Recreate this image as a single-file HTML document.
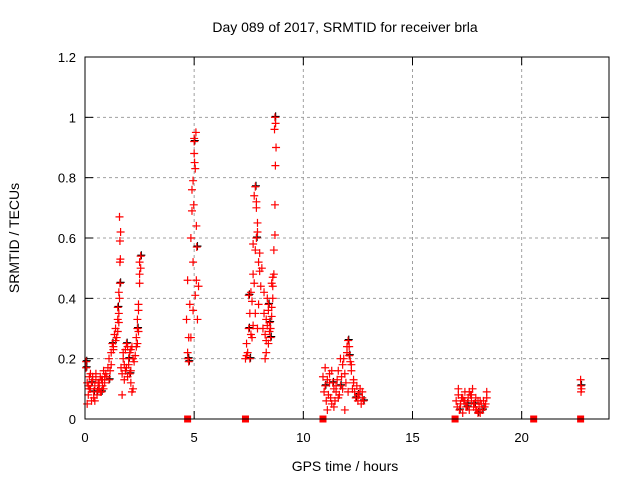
<!DOCTYPE html>
<html><head><meta charset="utf-8"><style>
body{margin:0;background:#fff}
svg{display:block;font-family:"Liberation Sans",sans-serif}
</style></head><body>
<svg id="chart" width="640" height="480" viewBox="0 0 640 480">
<text x="345" y="32" font-size="14" text-anchor="middle">Day 089 of 2017, SRMTID for receiver brla</text>
<g id="grid"></g>
<g id="ticks"></g>
<g id="marks"></g>
<rect x="85" y="57" width="524" height="362" fill="none" stroke="#000" stroke-width="1"/>
<text x="345" y="471" font-size="14" text-anchor="middle">GPS time / hours</text>
<text transform="translate(19,238) rotate(-90)" font-size="14" text-anchor="middle">SRMTID / TECUs</text>
</svg>
<script>
const xTicks=[0,5,10,15,20];
const yTicks=[0,0.2,0.4,0.6,0.8,1,1.2];
const yTickLabels=["0","0.2","0.4","0.6","0.8","1","1.2"];
const hours=[0.05,0.1,0.15,0.2,0.25,0.3,0.35,0.4,0.45,0.5,0.55,0.6,0.65,0.7,0.75,0.8,0.85,0.9,0.95,0.1,0.2,0.3,0.4,0.5,0.6,0.7,0.8,0.9,0.05,0.25,0.45,0.65,0.85,0.15,0.35,0.55,0.75,
1.0,1.05,1.1,1.15,1.2,1.25,1.3,1.35,1.4,1.45,1.5,1.55,1.1,1.2,1.3,1.4,1.5,1.55,1.58,1.6,1.6,1.62,1.55,1.6,1.63,1.58,1.5,
1.7,1.75,1.8,1.85,1.9,1.95,2.0,2.05,2.1,2.15,2.2,1.7,1.8,1.9,2.0,2.1,2.2,1.75,1.85,1.95,2.05,2.15,1.65,2.1,2.25,
2.3,2.35,2.4,2.45,2.4,2.45,2.5,2.5,2.55,2.55,2.5,2.4,2.35,2.45,
4.65,4.7,4.72,4.75,4.7,4.8,4.85,4.9,4.95,5.0,5.0,5.02,5.05,4.98,5.1,5.1,5.12,4.95,5.05,5.15,5.2,4.9,4.85,4.75,5.08,5.0,4.95,
7.35,7.4,7.45,7.5,7.55,7.6,7.65,7.7,7.75,7.8,7.85,7.9,7.95,8.0,8.05,7.7,7.75,7.8,7.85,7.9,7.65,7.8,7.95,8.0,7.55,7.6,7.7,7.85,8.1,7.9,7.4,7.5,
8.15,8.2,8.25,8.3,8.35,8.4,8.45,8.5,8.55,8.6,8.2,8.3,8.4,8.5,8.6,8.25,8.35,8.45,8.55,8.3,8.4,8.65,8.7,8.7,8.72,8.75,8.68,8.7,8.73,8.65,8.6,8.55,
10.9,10.95,11.0,11.05,11.1,11.15,11.2,11.25,11.3,11.35,11.4,11.45,11.5,11.55,11.6,11.65,11.7,11.75,11.8,11.85,11.9,11.95,12.0,12.05,12.1,12.15,12.2,12.25,12.3,12.35,12.4,12.45,12.5,12.55,12.6,12.65,12.7,12.75,11.0,11.2,11.4,11.6,11.8,12.0,12.1,12.2,11.9,12.05,11.3,11.5,12.3,12.5,12.7,11.1,11.7,
17.0,17.05,17.1,17.15,17.2,17.25,17.3,17.35,17.4,17.45,17.5,17.55,17.6,17.65,17.7,17.75,17.8,17.85,17.9,17.95,18.0,18.05,18.1,18.15,18.2,18.25,18.3,18.35,18.4,17.1,17.3,17.5,17.7,17.9,18.1,18.3,17.2,17.6,18.0,18.4,17.4,17.8,
22.7,22.72,22.74,22.71];
const tecu=[0.17,0.12,0.08,0.14,0.1,0.06,0.13,0.09,0.11,0.15,0.08,0.12,0.1,0.14,0.09,0.13,0.16,0.12,0.15,0.05,0.1,0.12,0.07,0.13,0.1,0.09,0.11,0.14,0.19,0.15,0.06,0.12,0.1,0.11,0.14,0.09,0.13,
0.14,0.17,0.2,0.16,0.22,0.25,0.24,0.28,0.3,0.27,0.33,0.32,0.13,0.18,0.23,0.26,0.29,0.35,0.4,0.45,0.52,0.53,0.42,0.59,0.62,0.67,0.37,
0.15,0.2,0.18,0.23,0.17,0.14,0.2,0.22,0.16,0.24,0.1,0.08,0.13,0.25,0.18,0.12,0.2,0.22,0.16,0.24,0.15,0.09,0.17,0.23,0.19,
0.21,0.27,0.3,0.36,0.25,0.29,0.48,0.52,0.5,0.54,0.45,0.33,0.24,0.38,
0.33,0.22,0.2,0.27,0.46,0.38,0.6,0.69,0.79,0.92,0.93,0.85,0.83,0.71,0.46,0.64,0.57,0.52,0.41,0.33,0.44,0.76,0.27,0.19,0.95,0.88,0.36,
0.2,0.25,0.22,0.3,0.35,0.42,0.39,0.48,0.45,0.56,0.6,0.65,0.52,0.49,0.44,0.31,0.74,0.77,0.7,0.62,0.27,0.35,0.38,0.55,0.2,0.28,0.58,0.72,0.5,0.3,0.21,0.41,
0.3,0.35,0.28,0.33,0.4,0.25,0.32,0.3,0.37,0.44,0.42,0.22,0.36,0.27,0.47,0.2,0.31,0.29,0.34,0.26,0.38,0.56,0.61,0.71,0.84,0.9,0.96,1.0,0.98,0.48,0.4,0.45,
0.14,0.09,0.11,0.06,0.13,0.08,0.15,0.07,0.05,0.12,0.1,0.06,0.09,0.13,0.16,0.08,0.11,0.14,0.18,0.2,0.15,0.12,0.22,0.26,0.24,0.19,0.16,0.1,0.13,0.09,0.07,0.11,0.06,0.08,0.1,0.05,0.07,0.06,0.17,0.12,0.04,0.07,0.1,0.24,0.21,0.18,0.03,0.09,0.16,0.11,0.12,0.08,0.09,0.03,0.2,
0.06,0.04,0.08,0.03,0.05,0.07,0.02,0.06,0.09,0.04,0.05,0.07,0.03,0.08,0.06,0.1,0.04,0.05,0.07,0.03,0.06,0.04,0.02,0.05,0.03,0.06,0.04,0.05,0.09,0.1,0.07,0.04,0.08,0.03,0.06,0.04,0.05,0.09,0.02,0.07,0.06,0.05,
0.13,0.09,0.1,0.11];
const gapHours=[4.7,7.35,10.9,16.95,20.55,22.7];
const X0=85,X1=609,Y0=419,Y1=57,XMAX=24,YMAX=1.2;
const sx=h=>X0+(X1-X0)*h/XMAX;
const sy=v=>Y0-(Y0-Y1)*v/YMAX;
const NS="http://www.w3.org/2000/svg";
const grid=document.getElementById('grid'),ticks=document.getElementById('ticks'),marks=document.getElementById('marks');
function mk(tag,attrs,parent){const e=document.createElementNS(NS,tag);for(const k in attrs)e.setAttribute(k,attrs[k]);parent.appendChild(e);return e;}
xTicks.forEach(t=>{const x=sx(t);
 if(t>0){const l=mk('line',{x1:x,y1:Y1,x2:x,y2:Y0,stroke:'#a0a0a0','stroke-dasharray':'3,3'},grid);}
 mk('line',{x1:x,y1:Y0,x2:x,y2:Y0-8,stroke:'#000'},ticks);mk('line',{x1:x,y1:Y1,x2:x,y2:Y1+8,stroke:'#000'},ticks);
 const tx=mk('text',{x:x,y:Y0+23,'font-size':13,'text-anchor':'middle'},ticks);tx.textContent=t;
 });
yTicks.forEach((t,i)=>{const y=sy(t);
 if(t>0&&t<YMAX){const l=mk('line',{x1:X0,y1:y,x2:X1,y2:y,stroke:'#a0a0a0','stroke-dasharray':'3,3'},grid);}
 mk('line',{x1:X0,y1:y,x2:X0+8,y2:y,stroke:'#000'},ticks);mk('line',{x1:X1,y1:y,x2:X1-8,y2:y,stroke:'#000'},ticks);
 const tx=mk('text',{x:X0-9,y:y+5,'font-size':13,'text-anchor':'end'},ticks);tx.textContent=yTickLabels[i];
 });
function plus(h,v,col,name){const x=sx(h),y=sy(v);
 const p=mk('path',{d:`M${x-4},${y}H${x+4}M${x},${y-4}V${y+4}`,stroke:col,'stroke-width':1.2,fill:'none'},marks);
 
 }
hours.forEach((h,i)=>{if(i%7==0)plus(h+0.03,tecu[i]+0.003,'#000','point-black');});
hours.forEach((h,i)=>plus(h,tecu[i],'#ff0000','point-red'));
gapHours.forEach(h=>{const r=mk('rect',{x:sx(h)-3.5,y:Y0-3.5,width:7,height:7,fill:'#ff0000'},marks);
 
 });
</script>
</body></html>
